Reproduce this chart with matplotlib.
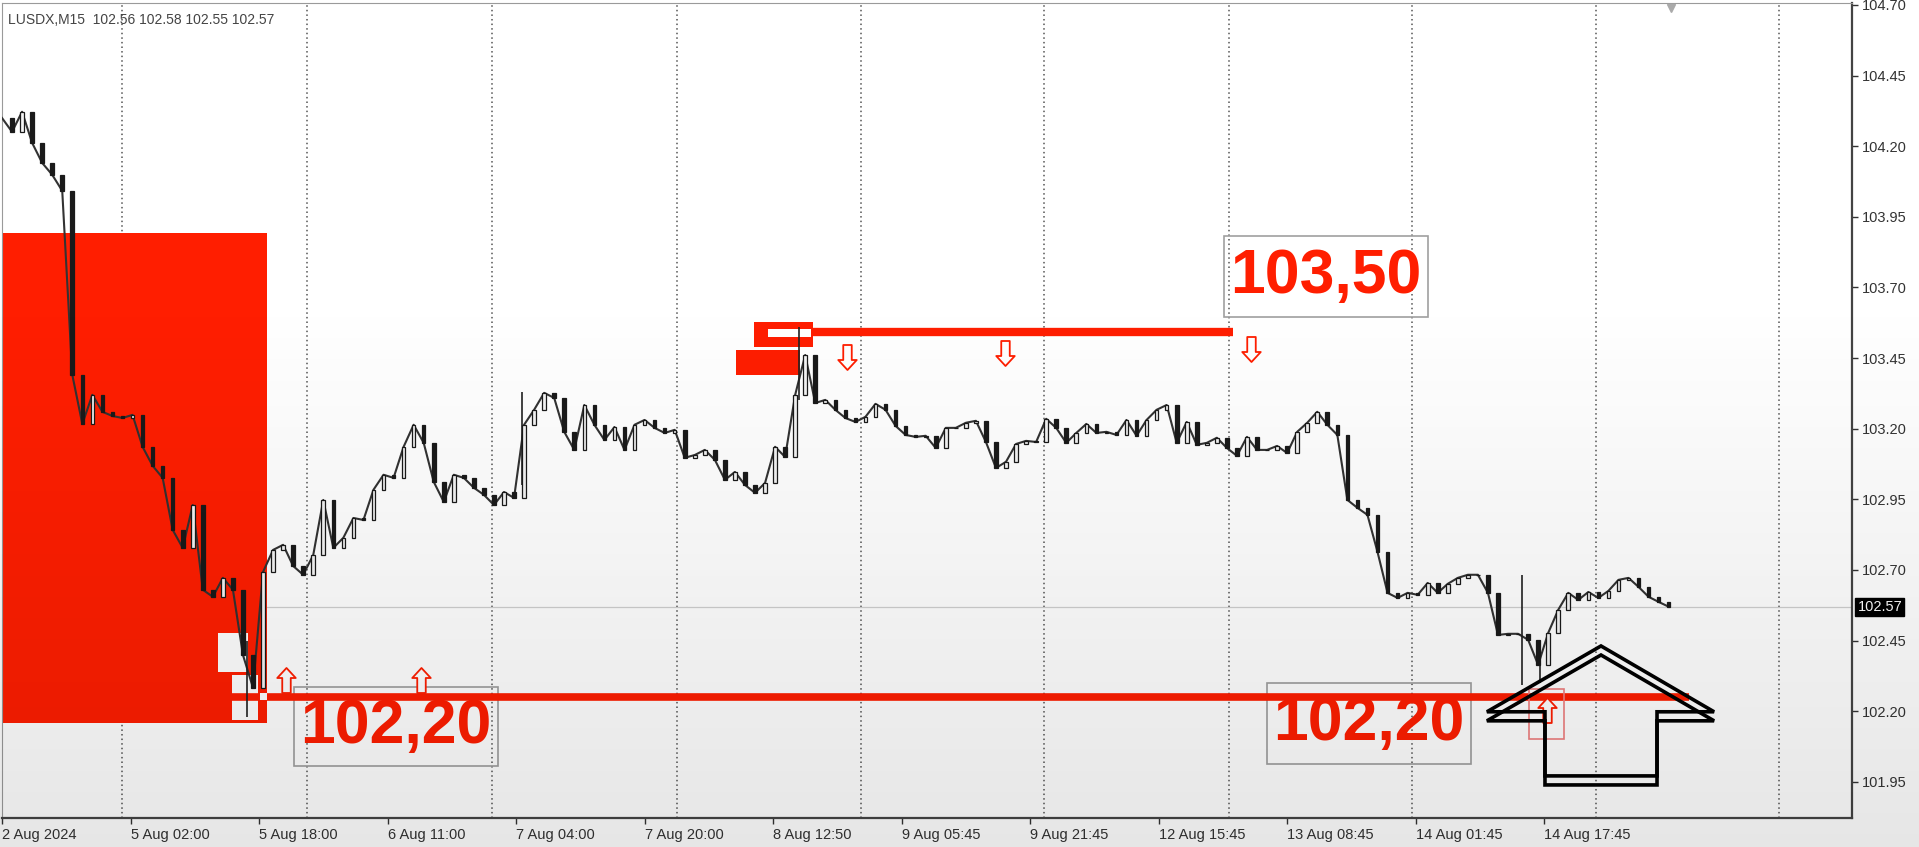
import numpy as np
import matplotlib.pyplot as plt
from matplotlib.path import Path
from matplotlib.patches import Rectangle, Polygon

plt.rcParams['font.family'] = ['Liberation Sans', 'DejaVu Sans']

RED = '#ff1e00'
STEP = 5  # bars (M15) between sampled closes

# closes, one every 5 bars
closes = [
    104.300, 104.251, 104.322, 104.212, 104.141, 104.099, 104.042, 103.391, 103.217, 103.320,
    103.260, 103.245, 103.238, 103.249, 103.136, 103.069, 103.026, 102.842, 102.778, 102.930,
    102.630, 102.605, 102.672, 102.630, 102.399, 102.283, 102.693, 102.771, 102.789, 102.714,
    102.683, 102.753, 102.948, 102.778, 102.814, 102.884, 102.877, 102.984, 103.037, 103.026,
    103.136, 103.214, 103.150, 103.012, 102.941, 103.037, 103.026, 102.991, 102.966, 102.930,
    102.976, 102.955, 103.214, 103.267, 103.327, 103.309, 103.189, 103.125, 103.284, 103.214,
    103.160, 103.206, 103.125, 103.214, 103.231, 103.203, 103.185, 103.196, 103.097, 103.107,
    103.125, 103.090, 103.019, 103.047, 103.001, 102.973, 103.008, 103.136, 103.100, 103.320,
    103.461, 103.291, 103.302, 103.267, 103.238, 103.224, 103.242, 103.288, 103.267, 103.210,
    103.178, 103.171, 103.175, 103.132, 103.203, 103.203, 103.221, 103.228, 103.153, 103.061,
    103.083, 103.146, 103.157, 103.153, 103.235, 103.203, 103.150, 103.185, 103.217, 103.185,
    103.189, 103.178, 103.231, 103.175, 103.231, 103.267, 103.284, 103.150, 103.224, 103.143,
    103.150, 103.168, 103.132, 103.104, 103.171, 103.125, 103.125, 103.139, 103.114, 103.189,
    103.221, 103.260, 103.214, 103.178, 102.948, 102.920, 102.895, 102.764, 102.619, 102.601,
    102.619, 102.612, 102.654, 102.619, 102.651, 102.672, 102.683, 102.683, 102.619, 102.470,
    102.474, 102.474, 102.453, 102.364, 102.477, 102.559, 102.619, 102.594, 102.622, 102.601,
    102.626, 102.665, 102.672, 102.640, 102.605, 102.587, 102.570,
]

# a few long wicks
wick_bars = [122, 259, 397, 757, 766]
wick_hi = [102.45, 103.33, 103.56, 102.683, 102.45]
wick_lo = [102.18, 103.00, 103.30, 102.293, 102.30]

tick_bars = [0, 64, 128, 192, 256, 320, 384, 448, 512, 576, 640, 704, 768]
tick_labels = ['2 Aug 2024', '5 Aug 02:00', '5 Aug 18:00', '6 Aug 11:00', '7 Aug 04:00',
               '7 Aug 20:00', '8 Aug 12:50', '9 Aug 05:45', '9 Aug 21:45', '12 Aug 15:45',
               '13 Aug 08:45', '14 Aug 01:45', '14 Aug 17:45']
grid_bars = [60, 152, 244, 336, 428, 519, 611, 702, 794, 885]
price_ticks = [101.95, 102.20, 102.45, 102.70, 102.95, 103.20, 103.45, 103.70, 103.95, 104.20, 104.45, 104.70]

last_price = 102.57
header = 'LUSDX,M15  102.56 102.58 102.55 102.57'

# drawn objects (bar, price)
zone = (0, 132, 102.159, 103.893)
white_boxes = [(107.6, 122.5, 102.339, 102.477), (114.5, 127.5, 102.169, 102.329)]
support = (102.251, 114.5, 840)
resistance = (103.543, 404, 613)
res_box = (374.5, 404, 103.490, 103.578)
res_box_inner = (381.5, 403, 103.525, 103.553)
solid_box = (365.5, 397.4, 103.391, 103.479)
down_arrows_x = [420.8, 499.5, 622]
down_arrows_y = [103.455, 103.468, 103.483]
up_arrows_x = [141.4, 208.7, 769.4]
up_arrows_y = [102.311, 102.311, 102.205]
up_arrow_frame = (760.5, 777.9, 102.102, 102.279)
labels = [('103,50', 608.6, 710.2, 103.596, 103.883),
          ('102,20', 145.4, 247.0, 102.006, 102.286),
          ('102,20', 630.0, 731.6, 102.014, 102.300)]
big_arrow_x = [796.3, 852.6, 824.2, 824.2, 768.4, 768.4, 739.5]
big_arrow_y = [102.431, 102.198, 102.198, 101.971, 101.971, 102.198, 102.198]

fig = plt.figure(figsize=(19.19, 8.47), dpi=100)
ax = fig.add_axes([2 / 1919, 29 / 847, 1850 / 1919, 815 / 847])
ax.set_xlim(0, 921.3)
ax.set_ylim(101.822, 104.707)

# zone and marks
ax.add_patch(Rectangle((zone[0], zone[2]), zone[1] - zone[0], zone[3] - zone[2], color=RED, lw=0, zorder=1))
for x0, x1, y0, y1 in white_boxes:
    ax.add_patch(Rectangle((x0, y0), x1 - x0, y1 - y0, color='white', lw=0, zorder=1.5))
ax.hlines(support[0], support[1], support[2], color=RED, lw=5.5, zorder=2)
ax.add_patch(Rectangle((128.5, support[0] - 0.013), 3.5, 0.026, color='white', lw=0, zorder=2.1))
ax.hlines(resistance[0], resistance[1], resistance[2], color=RED, lw=6, zorder=2)
ax.add_patch(Rectangle((res_box[0], res_box[2]), res_box[1] - res_box[0], res_box[3] - res_box[2], color=RED, lw=0, zorder=2))
ax.add_patch(Rectangle((res_box_inner[0], res_box_inner[2]), res_box_inner[1] - res_box_inner[0],
                       res_box_inner[3] - res_box_inner[2], color='white', lw=0, zorder=2.1))
ax.add_patch(Rectangle((solid_box[0], solid_box[2]), solid_box[1] - solid_box[0], solid_box[3] - solid_box[2], color=RED, lw=0, zorder=2))

# vertical dotted grid + bid line
for g in grid_bars:
    ax.axvline(g, color='#555555', lw=1.1, ls=(0, (1, 2)), zorder=0.5)
ax.axhline(last_price, color='#d0d0d0', lw=0.9, zorder=0.6)

# candles
bars = np.arange(len(closes)) * STEP
c = np.array(closes)
o = np.r_[c[0], c[:-1]]
up = c >= o
ax.plot(bars, c, color='#333333', lw=1.5, zorder=3)
ax.bar(bars[1:], (c - o)[1:], bottom=o[1:], width=1.8,
       color=np.where(up, '#f4f4f4', '#1a1a1a')[1:], edgecolor='#1a1a1a', linewidth=0.9, zorder=3.2)
ax.vlines(wick_bars, wick_lo, wick_hi, color='#222222', lw=1.2, zorder=3.1)

# hollow arrows
arrow = Path([(0, 0.5), (0.37, 0.1), (0.17, 0.1), (0.17, -0.5), (-0.17, -0.5), (-0.17, 0.1), (-0.37, 0.1), (0, 0.5)],
             [Path.MOVETO] + [Path.LINETO] * 6 + [Path.CLOSEPOLY])
arrow_dn = Path(arrow.vertices * [1, -1], arrow.codes)
ax.plot(up_arrows_x, up_arrows_y, ls='none', marker=arrow, ms=18, mfc='white', mec=RED, mew=1.3, zorder=4)
ax.plot(down_arrows_x, down_arrows_y, ls='none', marker=arrow_dn, ms=18, mfc='white', mec=RED, mew=1.3, zorder=4)
f = up_arrow_frame
ax.add_patch(Rectangle((f[0], f[2]), f[1] - f[0], f[3] - f[2], fill=False, ec='#f08080', lw=1.2, zorder=4))

# text labels
for txt, x0, x1, y0, y1 in labels:
    ax.add_patch(Rectangle((x0, y0), x1 - x0, y1 - y0, fill=False, ec='#a0a0a0', lw=1.2, zorder=1.8))
    ax.text((x0 + x1) / 2, (y0 + y1) / 2, txt, color=RED, fontsize=45, fontweight='bold',
            ha='center', va='center', zorder=4)

# black outline arrow (drawn twice, slightly offset)
for dy in (0, -0.032):
    ax.add_patch(Polygon(np.c_[big_arrow_x, np.array(big_arrow_y) + dy], closed=True, fill=False,
                         ec='black', lw=2.6, joinstyle='miter', zorder=6))

# axes cosmetics
ax.yaxis.tick_right()
ax.set_yticks(price_ticks)
ax.set_yticklabels([f'{p:.2f}' for p in price_ticks])
ax.set_xticks(tick_bars)
ax.set_xticklabels(tick_labels, ha='left')
ax.tick_params(axis='both', labelsize=10.5, colors='#333333', length=4, width=1, pad=3)
for side in ('left', 'top'):
    ax.spines[side].set_color('#9a9a9a')
for side in ('right', 'bottom'):
    ax.spines[side].set_color('#444444')
    ax.spines[side].set_linewidth(1.6)

ax.text(0.003, 0.988, header, transform=ax.transAxes, fontsize=10, color='#444444', va='top', ha='left', zorder=7)
ax.text(1.003, last_price, f'{last_price:.2f}', transform=ax.get_yaxis_transform(), fontsize=10.5,
        color='white', va='center', ha='left', zorder=7,
        bbox=dict(boxstyle='square,pad=0.15', fc='black', ec='black'))
ax.plot([831], [104.69], marker='v', ms=6, color='#aaaaaa', zorder=7, clip_on=False)

# soft grey shading toward the bottom of the screen
ov = fig.add_axes([0, 0, 1, 1], zorder=50)
ov.axis('off')
ov.patch.set_alpha(0)
shade = np.zeros((200, 1, 4))
shade[:, 0, 3] = np.clip((np.linspace(0, 1, 200) - 0.35) / 0.65, 0, 1) * 0.1
ov.imshow(shade, aspect='auto', extent=[0, 1, 0, 1], origin='upper')
ov.set_xlim(0, 1)
ov.set_ylim(0, 1)

fig.savefig('out.png', dpi=100)
